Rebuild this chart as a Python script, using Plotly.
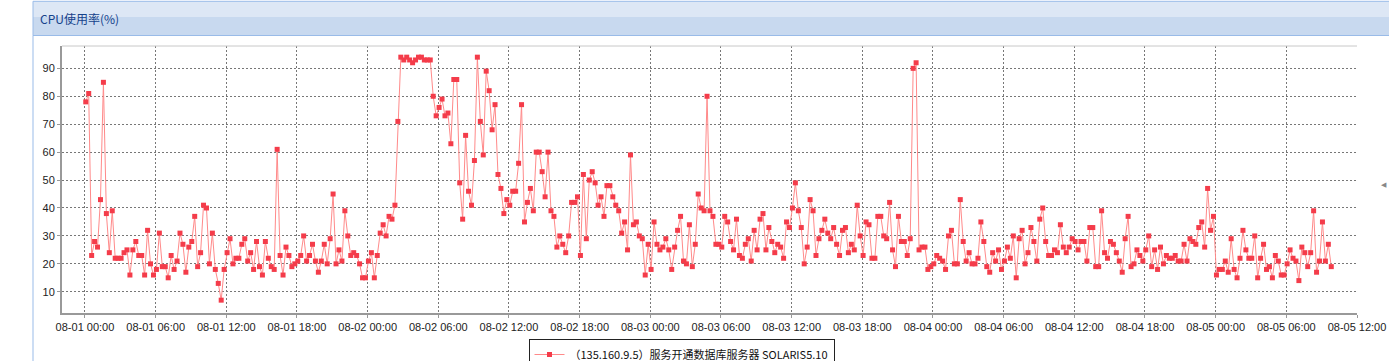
import pandas as pd
import plotly.graph_objects as go

# CPU usage (%) sampled every 15 minutes, one list per day
cpu_0801 = [78, 81, 23, 28, 26, 43, 85, 38, 24, 39, 22, 22, 22, 24, 25, 16, 25, 28, 23, 23, 16, 32, 20, 16,
            18, 31, 19, 19, 15, 23, 18, 21, 31, 27, 17, 26, 28, 37, 19, 24, 41, 40, 20, 31, 18, 13, 7, 18,
            24, 29, 20, 22, 22, 27, 29, 21, 24, 18, 28, 19, 16, 28, 22, 19, 18, 61, 23, 16, 26, 23, 19, 20,
            21, 23, 30, 21, 23, 27, 21, 17, 21, 27, 20, 29, 45, 20, 25, 21, 39, 30, 23, 24, 23, 20, 15, 15]
cpu_0802 = [21, 24, 15, 23, 31, 34, 30, 37, 36, 41, 71, 94, 93, 94, 93, 92, 93, 94, 94, 93, 93, 93, 80, 73,
            76, 79, 73, 74, 63, 86, 86, 49, 36, 66, 46, 41, 57, 94, 71, 59, 89, 82, 68, 77, 52, 47, 38, 43,
            41, 46, 46, 56, 77, 35, 42, 47, 39, 60, 60, 53, 44, 60, 39, 37, 26, 30, 27, 24, 30, 42, 42, 44,
            23, 52, 29, 50, 53, 49, 41, 44, 37, 48, 48, 44, 41, 39, 31, 35, 25, 59, 34, 35, 30, 29, 16, 27]
cpu_0803 = [18, 35, 27, 25, 26, 29, 25, 18, 26, 32, 37, 21, 20, 34, 19, 27, 45, 40, 39, 80, 39, 37, 27, 27,
            26, 37, 35, 28, 25, 36, 23, 22, 27, 29, 21, 32, 25, 36, 38, 25, 33, 28, 24, 27, 26, 22, 35, 33,
            40, 49, 39, 33, 20, 26, 43, 39, 23, 29, 32, 36, 31, 29, 33, 27, 23, 32, 33, 24, 27, 25, 41, 30,
            23, 35, 34, 22, 22, 37, 37, 30, 29, 42, 25, 19, 37, 28, 28, 23, 29, 90, 92, 25, 26, 26, 18, 19]
cpu_0804 = [20, 23, 22, 21, 18, 30, 32, 20, 20, 43, 28, 21, 24, 20, 20, 22, 35, 28, 19, 17, 24, 21, 25, 18,
            21, 26, 22, 30, 15, 29, 32, 20, 24, 33, 28, 21, 36, 40, 28, 23, 23, 25, 24, 34, 26, 24, 26, 29,
            28, 25, 28, 28, 21, 33, 33, 19, 19, 39, 24, 22, 28, 27, 24, 21, 17, 29, 37, 19, 20, 25, 23, 21,
            25, 30, 19, 25, 18, 26, 20, 23, 22, 22, 23, 21, 21, 27, 21, 29, 28, 27, 33, 35, 26, 47, 32, 37]
cpu_0805 = [16, 18, 18, 21, 17, 29, 18, 15, 22, 32, 25, 22, 22, 30, 15, 22, 27, 18, 19, 15, 23, 21, 16, 16,
            20, 25, 22, 21, 14, 26, 24, 19, 24, 39, 17, 21, 35, 21, 27, 19]

start_time = "2013-08-01 00:04"
sample_interval = "15min"
series_name = "（135.160.9.5）服务开通数据库服务器 SOLARIS5.10"
chart_title = "CPU使用率(%)"

values = cpu_0801 + cpu_0802 + cpu_0803 + cpu_0804 + cpu_0805
times = pd.date_range(start_time, periods=len(values), freq=sample_interval)

fig = go.Figure()
fig.add_trace(go.Scatter(
    x=times, y=values, mode="lines+markers", name=series_name,
    line=dict(color="#ff8a8a", width=1),
    marker=dict(symbol="square", size=5, color="#f43c4a"),
))

W, H = 1389, 361
L, R, T, B = 62, 1357, 46, 313
pw, ph = R - L, B - T

def px(x):
    return (x - L) / pw

def py(y):
    return (B - y) / ph

tick_font = dict(family="Liberation Sans, Arial, sans-serif", size=11, color="#222")

fig.update_layout(
    width=W, height=H,
    margin=dict(l=L, r=W - R, t=T, b=H - B, autoexpand=False),
    paper_bgcolor="white", plot_bgcolor="white",
    showlegend=True,
    legend=dict(
        x=(px(546) + px(817)) / 2, xanchor="center", y=py(339), yanchor="top",
        bordercolor="#222", borderwidth=1, bgcolor="white",
        font=dict(family="Noto Sans CJK SC", size=11, color="#111"),
    ),
    xaxis=dict(
        range=["2013-07-31 22:03", "2013-08-05 12:00"],
        tick0="2013-08-01 00:00", dtick=6 * 3600 * 1000, tickformat="%m-%d %H:%M",
        tickangle=0,
        showgrid=True, gridcolor="#777", griddash="2px,2px", gridwidth=1,
        showline=True, linecolor="#999", linewidth=2, mirror=False,
        ticks="outside", ticklen=3, tickcolor="#999",
        tickfont=tick_font, zeroline=False,
    ),
    yaxis=dict(
        range=[2.4, 98], tick0=0, dtick=10,
        showgrid=True, gridcolor="#777", griddash="2px,2px", gridwidth=1,
        showline=True, linecolor="#999", linewidth=2, mirror=False,
        ticks="outside", ticklen=3, tickcolor="#999",
        tickfont=tick_font, zeroline=False,
    ),
    shapes=[
        # plot top border
        dict(type="line", xref="paper", yref="paper", x0=0, x1=1, y0=1, y1=1,
             line=dict(color="#c8c8c8", width=1)),
        # panel header bar
        dict(type="rect", xref="paper", yref="paper", x0=px(33), x1=px(1392), y0=py(17), y1=py(1.3),
             fillcolor="#dde7f5", line=dict(width=0), layer="above"),
        dict(type="rect", xref="paper", yref="paper", x0=px(33), x1=px(1392), y0=py(35.5), y1=py(17),
             fillcolor="#c8d9ef", line=dict(width=0), layer="above"),
        dict(type="rect", xref="paper", yref="paper", x0=px(33), x1=px(1392), y0=py(35.5), y1=py(1.3),
             fillcolor="rgba(0,0,0,0)", line=dict(color="#99bbe8", width=1), layer="above"),
        # panel left border
        dict(type="line", xref="paper", yref="paper", x0=px(33), x1=px(33), y0=py(362), y1=py(35.5),
             line=dict(color="#99bbe8", width=1)),
    ],
    annotations=[
        dict(text=chart_title, xref="paper", yref="paper", x=px(38), y=py(19),
             xanchor="left", yanchor="middle", showarrow=False,
             font=dict(family="Noto Sans CJK SC", size=12, color="#15428b")),
        dict(text="◀", xref="paper", yref="paper", x=px(1389), y=py(185),
             xanchor="right", yanchor="middle", showarrow=False,
             font=dict(family="DejaVu Sans", size=7, color="#888")),
    ],
)

fig.write_html("out.html")
